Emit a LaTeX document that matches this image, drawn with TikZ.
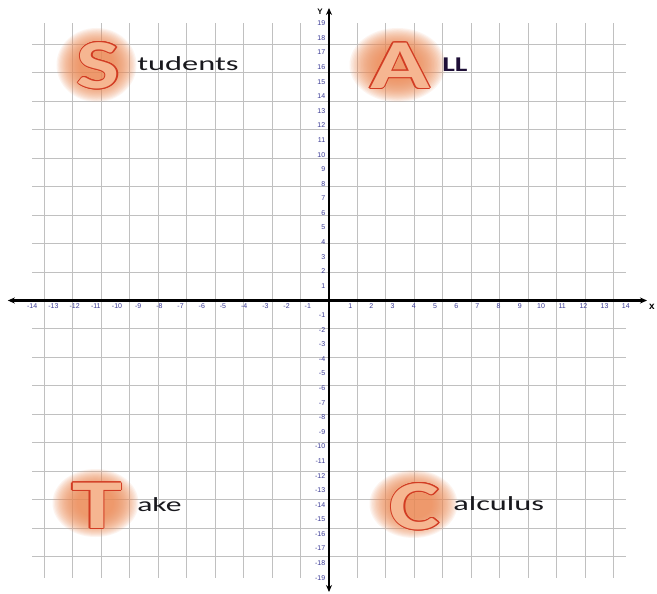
\documentclass[tikz,border=0pt]{standalone}
\usepackage{fontspec}
\setmainfont{Carlito}
\newfontfamily\tickfont{Liberation Sans}
\usetikzlibrary{arrows.meta,calc}
\definecolor{gridgray}{RGB}{192,192,192}
\definecolor{ticklbl}{RGB}{60,60,150}
\definecolor{outlinered}{RGB}{210,60,35}
\definecolor{letterfill}{RGB}{246,182,145}
\definecolor{glowcol}{RGB}{238,140,88}
\definecolor{textblack}{RGB}{25,25,30}
\definecolor{navy}{RGB}{30,15,55}
\newcommand\GlowLetter[9]{%
  \foreach \k in {0,...,19}{%
    \pgfmathsetmacro\rx{#8*(1-0.03*\k)}%
    \pgfmathsetmacro\ry{#9*(1-0.03*\k)}%
    \fill[glow] (#6,#7) ellipse [x radius=\rx, y radius=\ry];%
  }%
  \foreach \a in {0,30,...,330}{\node[bigletter,xscale=#5,text=outlinered] at ($(#2,#3)+(\a:1.1)$) {#4};}%
  \node[bigletter,xscale=#5,text=letterfill] (#1) at (#2,#3) {#4};%
}
\begin{document}
\begin{tikzpicture}[x=1pt,y=-1pt,
  gridline/.style={draw=gridgray,line width=1pt},
  axisline/.style={line width=2.2pt,black,{Stealth[length=7pt,width=6pt]}-{Stealth[length=7pt,width=6pt]}},
  ticklabel/.style={font=\tickfont\fontsize{7}{8}\selectfont,text=ticklbl,inner sep=0pt},
  bigletter/.style={font=\bfseries\fontsize{70}{70}\selectfont,inner sep=0pt},
  wordtext/.style={font=\fontsize{20}{24}\selectfont,text=textblack,inner sep=0pt,anchor=base west},
  glow/.style={fill=glowcol,fill opacity=0.09},
  axislabel/.style={font=\tickfont\bfseries\fontsize{8}{9}\selectfont,inner sep=0pt}
]
\useasboundingbox[fill=white] (0,0) rectangle (657,594);
\begin{scope}[shift={(329,300.5)},x=21.2pt,y=14.59pt]
  \draw[gridline] (-14,-19) grid (14,19);
\end{scope}
\GlowLetter{S}{98.5}{65.5}{S}{1.3}{96.5}{65}{40}{37}
\GlowLetter{A}{400}{65.5}{A}{1.41}{397.5}{65}{48}{37}
\GlowLetter{T}{97}{505.5}{T}{1.44}{95.5}{503}{43}{34}
\GlowLetter{C}{415}{506.5}{C}{1.35}{413.5}{504}{44}{34}
\node[wordtext,xscale=1.62] (w1) at (137,70.7) {tudents};
\node[wordtext,xscale=1.42,font=\bfseries\fontsize{21}{24}\selectfont,text=navy] (w2) at (442,72) {LL};
\node[wordtext,xscale=1.58] (w3) at (137,511.5) {ake};
\node[wordtext,xscale=1.62] (w4) at (453,510.7) {alculus};
\begin{scope}[shift={(329,300.5)},x=21.2pt,y=14.59pt]
  \coordinate (xl) at (-15.15,0);
  \coordinate (xr) at (15.0,0);
  \coordinate (yt) at (0,20.05);
  \coordinate (yb) at (0,-19.98);
  \draw[axisline] (xl) -- (xr);
  \draw[axisline] (yb) -- (yt);
  \foreach \i in {-14,...,-1,1,2,...,14} \node[ticklabel] at (\i,-0.38) {\i};
  \foreach \j in {-19,...,-1,1,2,...,19} \node[ticklabel,anchor=east] at (-0.17,\j) {\j};
\end{scope}
\node[axislabel] (ylab) at (320,12) {Y};
\node[axislabel,font=\tickfont\bfseries\fontsize{10}{10}\selectfont] (xlab) at (652,306.5) {x};
\end{tikzpicture}
\end{document}
